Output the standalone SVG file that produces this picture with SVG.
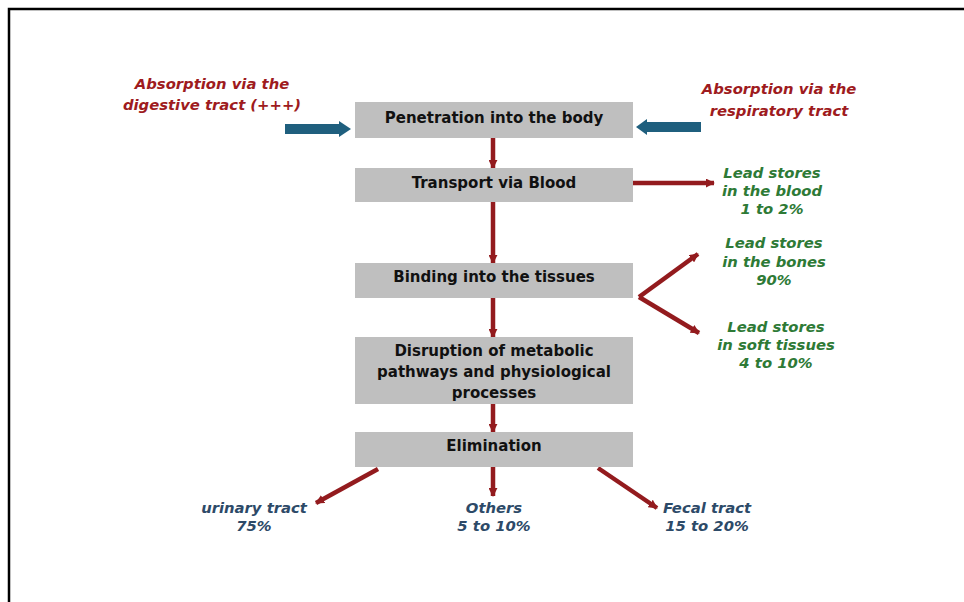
<svg xmlns="http://www.w3.org/2000/svg" width="964" height="602" viewBox="0 0 964 602">
<style>
.box{fill:#bfbfbf}
.bt{font-family:"DejaVu Sans","Liberation Sans",sans-serif;font-weight:bold;font-size:15px;fill:#111;text-anchor:middle}
.lab{font-family:"DejaVu Sans","Liberation Sans",sans-serif;font-weight:bold;font-style:italic;font-size:14.8px;text-anchor:middle}
.red{fill:#9e1b20}
.grn{fill:#2e7a36}
.blu{fill:#2d4a68}
.ra{stroke:#931b1e;stroke-width:4.5;fill:none}
.ba{fill:#1f5f7e}
</style>
<defs>
<marker id="rh" viewBox="0 0 10 10" refX="9" refY="5" markerWidth="9" markerHeight="9" markerUnits="userSpaceOnUse" orient="auto">
<path d="M0,0 L10,5 L0,10 z" fill="#931b1e"/>
</marker>
</defs>
<rect x="0" y="0" width="964" height="602" fill="#fff"/>
<path d="M9,602 V9 H964" fill="none" stroke="#000" stroke-width="2.5"/>

<g id="connectors">
<line class="ra" x1="493" y1="138" x2="493" y2="168" marker-end="url(#rh)"/>
<line class="ra" x1="493" y1="202" x2="493" y2="263" marker-end="url(#rh)"/>
<line class="ra" x1="493" y1="298" x2="493" y2="337" marker-end="url(#rh)"/>
<line class="ra" x1="493" y1="404" x2="493" y2="432" marker-end="url(#rh)"/>
<line class="ra" x1="633" y1="183" x2="714" y2="183" marker-end="url(#rh)"/>
<line class="ra" x1="639" y1="297" x2="698" y2="254" marker-end="url(#rh)"/>
<line class="ra" x1="639" y1="297" x2="699" y2="333" marker-end="url(#rh)"/>
<line class="ra" x1="378" y1="469" x2="316" y2="503" marker-end="url(#rh)"/>
<line class="ra" x1="493" y1="467" x2="493" y2="496" marker-end="url(#rh)"/>
<line class="ra" x1="598" y1="468" x2="657" y2="508" marker-end="url(#rh)"/>
<path class="ba" d="M285,124 H339 V121 L351,129 L339,137 V134 H285 z"/>
<path class="ba" d="M701,122 H647 V119 L636,127 L647,135 V132 H701 z"/>
</g>

<g id="n-penetration">
<rect class="box" x="355" y="102" width="278" height="36"/>
<text class="bt" x="494" y="123">Penetration into the body</text>
</g>
<g id="n-transport">
<rect class="box" x="355" y="168" width="278" height="34"/>
<text class="bt" x="494" y="188">Transport via Blood</text>
</g>
<g id="n-binding">
<rect class="box" x="355" y="263" width="278" height="35"/>
<text class="bt" x="494" y="282">Binding into the tissues</text>
</g>
<g id="n-disruption">
<rect class="box" x="355" y="337" width="278" height="67"/>
<text class="bt" x="494" y="356">Disruption of metabolic</text>
<text class="bt" x="494" y="377">pathways and physiological</text>
<text class="bt" x="494" y="398">processes</text>
</g>
<g id="n-elimination">
<rect class="box" x="355" y="432" width="278" height="35"/>
<text class="bt" x="494" y="451">Elimination</text>
</g>

<g id="l-digestive">
<text class="lab red" x="212" y="89">Absorption via the</text>
<text class="lab red" x="212" y="110">digestive tract (+++)</text>
</g>
<g id="l-respiratory">
<text class="lab red" x="779" y="94">Absorption via the</text>
<text class="lab red" x="779" y="116">respiratory tract</text>
</g>
<g id="l-blood">
<text class="lab grn" x="772" y="178">Lead stores</text>
<text class="lab grn" x="772" y="196">in the blood</text>
<text class="lab grn" x="772" y="214">1 to 2%</text>
</g>
<g id="l-bones">
<text class="lab grn" x="774" y="248">Lead stores</text>
<text class="lab grn" x="774" y="267">in the bones</text>
<text class="lab grn" x="774" y="285">90%</text>
</g>
<g id="l-soft">
<text class="lab grn" x="776" y="332">Lead stores</text>
<text class="lab grn" x="776" y="350">in soft tissues</text>
<text class="lab grn" x="776" y="368">4 to 10%</text>
</g>
<g id="l-urinary">
<text class="lab blu" x="254" y="513">urinary tract</text>
<text class="lab blu" x="254" y="531">75%</text>
</g>
<g id="l-others">
<text class="lab blu" x="494" y="513">Others</text>
<text class="lab blu" x="494" y="531">5 to 10%</text>
</g>
<g id="l-fecal">
<text class="lab blu" x="707" y="513">Fecal tract</text>
<text class="lab blu" x="707" y="531">15 to 20%</text>
</g>
</svg>
